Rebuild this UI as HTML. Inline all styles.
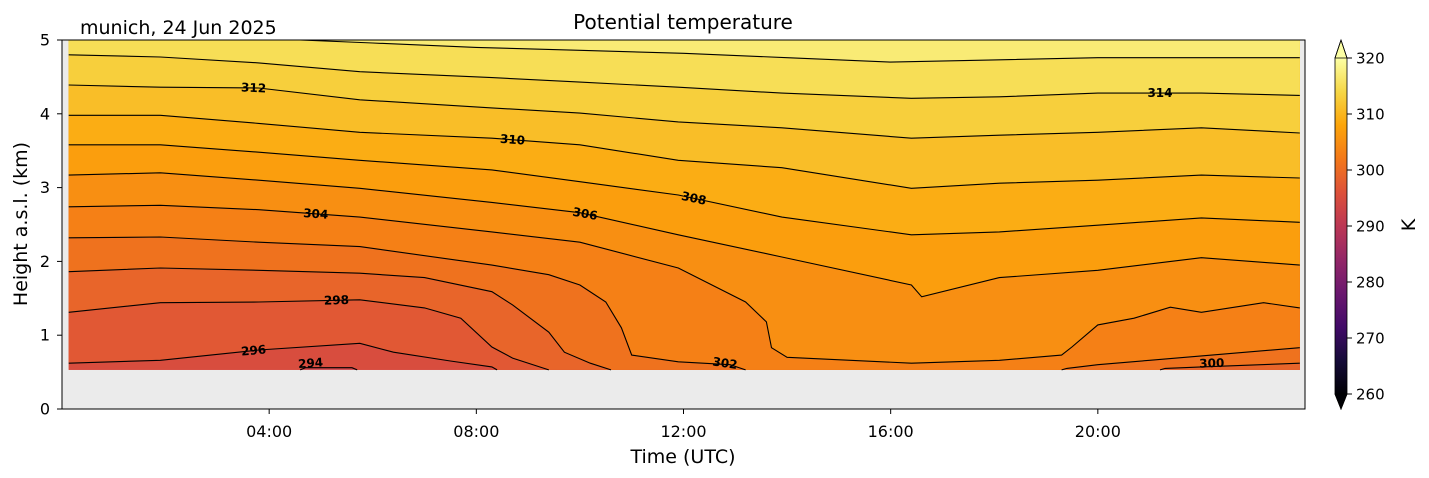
<!DOCTYPE html>
<html><head><meta charset="utf-8">
<style>
html,body{margin:0;padding:0;background:#fff;}
svg{display:block;font-family:"DejaVu Sans","Liberation Sans",sans-serif;}
</style></head>
<body>
<svg id="chart" width="1429" height="478" viewBox="0 0 1429 478" xmlns="http://www.w3.org/2000/svg">
  <defs>
    <clipPath id="plotclip"><rect x="62" y="40" width="1243" height="369"/></clipPath>
    <linearGradient id="cbgrad" x1="0" y1="1" x2="0" y2="0"></linearGradient>
  </defs>
  <text x="683" y="29" font-size="20" text-anchor="middle" fill="#000">Potential temperature</text>
  <text x="80" y="34" font-size="19" fill="#000">munich, 24 Jun 2025</text>
  <rect x="62" y="40" width="1243" height="369" fill="#ebebeb"/>
  <g id="fills" clip-path="url(#plotclip)"></g>
  <g id="lines" clip-path="url(#plotclip)"></g>
  <g id="clabels"></g>
  <rect x="62" y="40" width="1243" height="369" fill="none" stroke="#000" stroke-width="1"/>
  <g id="xaxis"></g>
  <g id="yaxis"></g>
  <text x="683" y="463" font-size="19" text-anchor="middle">Time (UTC)</text>
  <text transform="translate(27,224) rotate(-90)" font-size="19" text-anchor="middle">Height a.s.l. (km)</text>
  <g id="colorbar"></g>
  <text transform="translate(1415,225) rotate(-90)" font-size="19" text-anchor="middle">K</text>
</svg>
<script>
// ---- data ----
const levels = [294, 296, 298, 300, 302, 304, 306, 308, 310, 312, 314, 316];
const t294 = [0.13, 4.6, 4.7, 5.6, 5.7, 23.9];
const h294 = [0.53, 0.53, 0.56, 0.56, 0.53, 0.53];
const t296 = [0.13, 1.9, 3.8, 5.75, 6.4, 7.5, 8.3, 8.4, 23.9];
const h296 = [0.62, 0.66, 0.80, 0.89, 0.77, 0.65, 0.57, 0.53, 0.53];
const t298 = [0.13, 1.9, 3.8, 5.75, 7, 7.7, 8.3, 8.7, 9.4, 23.9];
const h298 = [1.31, 1.44, 1.45, 1.48, 1.37, 1.23, 0.84, 0.69, 0.53, 0.53];
const t300 = [0.13, 1.9, 3.8, 5.75, 7, 8.3, 8.7, 9.4, 9.7, 10.2, 10.6, 21.2, 21.3, 22, 23.9];
const h300 = [1.86, 1.91, 1.88, 1.84, 1.78, 1.59, 1.41, 1.04, 0.77, 0.62, 0.53, 0.53, 0.55, 0.57, 0.62];
const t302 = [0.13, 1.9, 3.8, 5.75, 8.3, 9.4, 10, 10.5, 10.8, 11, 11.9, 12.9, 13.2, 19.3, 19.4, 20, 21, 22, 23.9];
const h302 = [2.32, 2.33, 2.26, 2.20, 1.95, 1.82, 1.68, 1.45, 1.10, 0.73, 0.64, 0.60, 0.53, 0.53, 0.55, 0.60, 0.66, 0.72, 0.83];
const t304 = [0.13, 1.9, 3.8, 5.75, 8.3, 10, 11.9, 13.2, 13.6, 13.7, 14, 16.4, 18.1, 19.3, 19.5, 20, 20.7, 21.4, 22, 23.2, 23.9];
const h304 = [2.74, 2.76, 2.70, 2.60, 2.40, 2.26, 1.91, 1.45, 1.18, 0.83, 0.70, 0.62, 0.66, 0.73, 0.84, 1.14, 1.23, 1.38, 1.31, 1.44, 1.37];
const t306 = [0.13, 1.9, 3.8, 5.75, 8.3, 10, 11.9, 13.9, 16.4, 16.6, 18.1, 20, 22, 23.9];
const h306 = [3.17, 3.20, 3.10, 2.99, 2.80, 2.66, 2.36, 2.06, 1.68, 1.52, 1.78, 1.88, 2.05, 1.95];
const tUpper = [0.13, 1.9, 3.8, 5.75, 8.3, 10, 11.9, 13.9, 16.4, 18.1, 20, 22, 23.9];
const h308 = [3.58, 3.58, 3.48, 3.37, 3.24, 3.08, 2.90, 2.60, 2.36, 2.40, 2.49, 2.59, 2.53];
const h310 = [3.98, 3.98, 3.87, 3.75, 3.67, 3.58, 3.37, 3.27, 2.99, 3.06, 3.10, 3.17, 3.13];
const h312 = [4.39, 4.36, 4.35, 4.19, 4.08, 4.01, 3.89, 3.81, 3.67, 3.71, 3.75, 3.81, 3.74];
const h314 = [4.80, 4.77, 4.69, 4.57, 4.49, 4.43, 4.36, 4.28, 4.21, 4.23, 4.28, 4.28, 4.25];
const t316 = [0.13, 4.6, 6, 8, 10, 12, 14, 16, 18, 20, 22, 23.9];
const h316 = [5.05, 5.0, 4.96, 4.9, 4.86, 4.82, 4.76, 4.70, 4.73, 4.76, 4.76, 4.76];
const labelLevels = [294, 296, 298, 302, 304, 306, 308, 310, 312, 314, 300];
const labelTimes  = [4.8, 3.7, 5.3, 12.8, 4.9, 10.1, 12.2, 8.7, 3.7, 21.2, 22.2];
const xTickHours = [4, 8, 12, 16, 20];
const xTickLabels = ["04:00", "08:00", "12:00", "16:00", "20:00"];
const yTicks = [0, 1, 2, 3, 4, 5];
const cbTicks = [260, 270, 280, 290, 300, 310, 320];
const vmin = 260, vmax = 320;
const dataBottom = 0.53, dataTop = 5.0, tStart = 0.13, tEnd = 23.9;

const curves = {
  294: [t294, h294], 296: [t296, h296], 298: [t298, h298], 300: [t300, h300],
  302: [t302, h302], 304: [t304, h304], 306: [t306, h306], 308: [tUpper, h308],
  310: [tUpper, h310], 312: [tUpper, h312], 314: [tUpper, h314], 316: [t316, h316]
};

// ---- scales ----
const X = h => 62 + h * (1243 / 24);
const Y = km => 409 - km * 73.8;
const infernoStops = ["#000004","#160b39","#420a68","#6a176e","#932667","#bc3754","#dd513a","#f37819","#fca50a","#f6d746","#fcffa4"];
function hex2rgb(h){return [1,3,5].map(i=>parseInt(h.substr(i,2),16));}
function inferno(f){
  f = Math.max(0, Math.min(1, f));
  const p = f * 10, i = Math.min(9, Math.floor(p)), r = p - i;
  const a = hex2rgb(infernoStops[i]), b = hex2rgb(infernoStops[i+1]);
  return "rgb(" + a.map((v,k)=>Math.round(v + (b[k]-v)*r)).join(",") + ")";
}
const colorOf = v => inferno((v - vmin) / (vmax - vmin));
function interp(ts, hs, t){
  if (t <= ts[0]) return hs[0];
  for (let i = 1; i < ts.length; i++) if (t <= ts[i]) { const r = (t-ts[i-1])/(ts[i]-ts[i-1]); return hs[i-1] + (hs[i]-hs[i-1])*r; }
  return hs[hs.length-1];
}
const NS = "http://www.w3.org/2000/svg";
function mk(tag, attrs, parent){const e=document.createElementNS(NS,tag);for(const k in attrs)e.setAttribute(k,attrs[k]);parent.appendChild(e);return e;}

// ---- fills ----
const fills = document.getElementById("fills");
const base = mk("rect", {x: X(tStart), y: Y(dataTop), width: X(tEnd)-X(tStart), height: Y(dataBottom)-Y(dataTop), fill: colorOf(levels[0]-1)}, fills);


levels.forEach(L => {
  const [ts, hs] = curves[L];
  const pts = ts.map((t,i) => X(t).toFixed(1) + "," + Y(Math.max(dataBottom, Math.min(dataTop, hs[i]))).toFixed(1));
  pts.push(X(tEnd) + "," + Y(dataTop), X(tStart) + "," + Y(dataTop));
  const p = mk("polygon", {points: pts.join(" "), fill: colorOf(L + 1)}, fills);
  
  
});

// ---- contour lines (segments skip stretches lying on the data bottom) ----
const lines = document.getElementById("lines");
const isUp = v => v > dataBottom + 0.005;
levels.forEach(L => {
  const [ts, hs] = curves[L];
  const pt = i => X(ts[i]).toFixed(1) + "," + Y(Math.min(dataTop, hs[i])).toFixed(1);
  let run = [];
  const flush = () => {
    if (run.length > 1) {
      const pl = mk("polyline", {points: run.join(" "), fill: "none", stroke: "#000", "stroke-width": 1.1}, lines);
      
      
    }
    run = [];
  };
  for (let i = 0; i < ts.length - 1; i++) {
    if (isUp(hs[i]) || isUp(hs[i+1])) {
      if (run.length === 0) run.push(pt(i));
      run.push(pt(i+1));
    } else flush();
  }
  flush();
});

// ---- contour labels ----
const cl = document.getElementById("clabels");
labelLevels.forEach((L, i) => {
  const [ts, hs] = curves[L];
  const t = labelTimes[i];
  const h = Math.max(0.62, interp(ts, hs, t));
  const ang = Math.atan2(Y(interp(ts,hs,t+0.3)) - Y(interp(ts,hs,t-0.3)), X(t+0.3)-X(t-0.3)) * 180 / Math.PI;
  const rot = Math.max(-20, Math.min(20, ang));
  const tx = mk("text", {x: X(t), y: Y(h) + 4, "font-size": 12, "font-weight": "bold", "text-anchor": "middle", fill: "#000", transform: "rotate(" + rot.toFixed(1) + " " + X(t) + " " + Y(h) + ")"}, cl);
  tx.textContent = L;
  
  
});

// ---- axes ----
const xa = document.getElementById("xaxis");
xTickHours.forEach((hr, i) => {
  const tk = mk("line", {x1: X(hr), x2: X(hr), y1: 409, y2: 414, stroke: "#000"}, xa);
  
  
  const lb = mk("text", {x: X(hr), y: 437, "font-size": 16, "text-anchor": "middle"}, xa);
  lb.textContent = xTickLabels[i];
  
  
});
const ya = document.getElementById("yaxis");
yTicks.forEach(v => {
  const tk = mk("line", {x1: 57, x2: 62, y1: Y(v), y2: Y(v), stroke: "#000"}, ya);
  
  
  const lb = mk("text", {x: 50, y: Y(v) + 5.5, "font-size": 16, "text-anchor": "end"}, ya);
  lb.textContent = v;
  
  
});

// ---- colorbar ----
const grad = document.getElementById("cbgrad");
for (let k = 0; k <= 20; k++) mk("stop", {offset: (k/20), "stop-color": inferno(k/20)}, grad);
const cb = document.getElementById("colorbar");
const CY = v => 394 - (v - vmin) * (336 / (vmax - vmin));
const body = mk("rect", {x: 1335, y: CY(vmax), width: 12, height: CY(vmin) - CY(vmax), fill: "url(#cbgrad)"}, cb);


const topTri = mk("polygon", {points: "1335," + CY(vmax) + " 1347," + CY(vmax) + " 1341,40", fill: infernoStops[10], stroke: "#000", "stroke-width": 0.8}, cb);


const botTri = mk("polygon", {points: "1335," + CY(vmin) + " 1347," + CY(vmin) + " 1341,409", fill: infernoStops[0], stroke: "#000", "stroke-width": 0.8}, cb);


const frame = mk("polyline", {points: "1341,40 1347," + CY(vmax) + " 1347," + CY(vmin) + " 1341,409 1335," + CY(vmin) + " 1335," + CY(vmax) + " 1341,40", fill: "none", stroke: "#000", "stroke-width": 0.8}, cb);


cbTicks.forEach(v => {
  const tk = mk("line", {x1: 1347, x2: 1352, y1: CY(v), y2: CY(v), stroke: "#000"}, cb);
  
  
  const lb = mk("text", {x: 1356, y: CY(v) + 5.5, "font-size": 15}, cb);
  lb.textContent = v;
  
  
});
</script>
</body></html>
